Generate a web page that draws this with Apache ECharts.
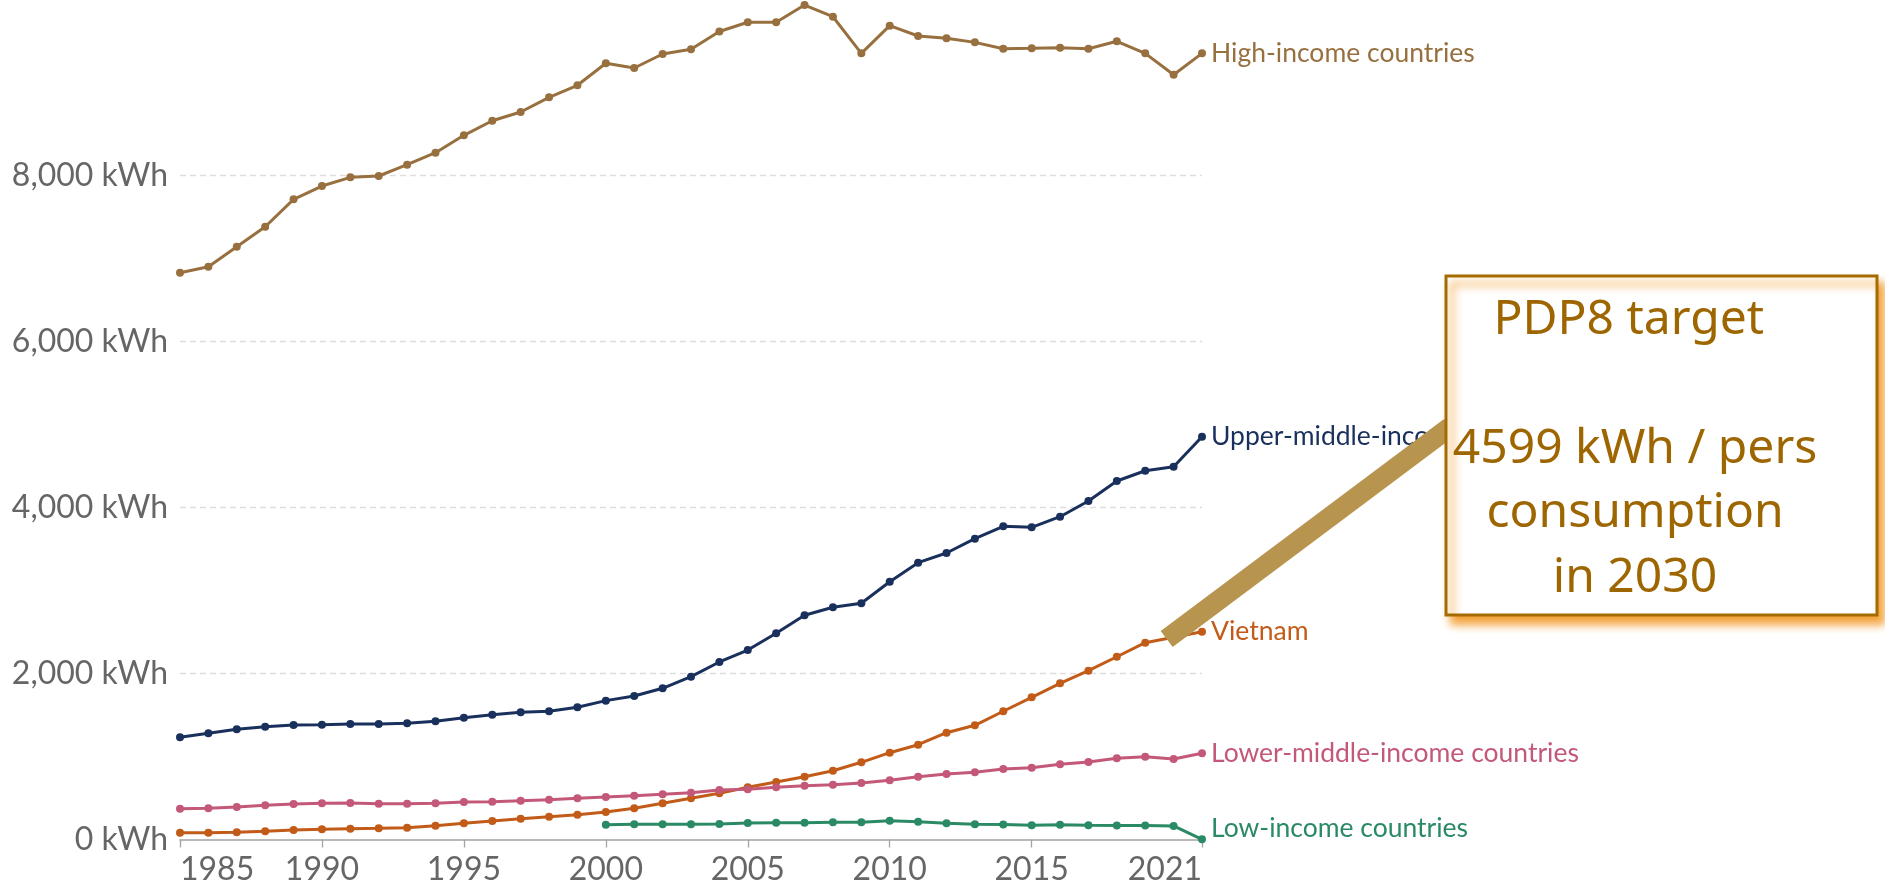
<!DOCTYPE html>
<html>
<head>
<meta charset="utf-8">
<script src="https://cdn.jsdelivr.net/npm/echarts@6/dist/echarts.min.js"></script>
<style>
html,body{margin:0;padding:0;background:#fff;}
#chart{width:1885px;height:888px;}
</style>
</head>
<body>
<div id="chart"></div>
<script>
const years = [1985,1986,1987,1988,1989,1990,1991,1992,1993,1994,1995,1996,1997,1998,1999,2000,2001,2002,2003,2004,2005,2006,2007,2008,2009,2010,2011,2012,2013,2014,2015,2016,2017,2018,2019,2020,2021];
const highIncome = [6829,6901,7142,7383,7713,7873,7978,7994,8130,8275,8484,8660,8765,8942,9087,9352,9295,9464,9520,9735,9846,9846,10054,9913,9472,9805,9681,9653,9604,9528,9532,9540,9528,9617,9472,9214,9472];
const upperMiddle = [1231,1280,1328,1359,1380,1383,1392,1392,1400,1424,1468,1504,1533,1545,1593,1673,1729,1822,1962,2139,2283,2484,2701,2798,2846,3106,3335,3452,3624,3773,3761,3889,4078,4319,4443,4492,4853];
const vietnam = [80,82,88,99,114,124,130,135,142,166,197,223,251,275,299,331,376,436,496,556,629,693,757,829,930,1046,1142,1287,1376,1545,1713,1882,2034,2202,2371,2436,2504];
const lowerMiddle = [369,376,392,412,428,438,440,432,432,436,452,456,468,480,496,512,528,544,564,596,605,629,648,660,681,713,757,789,810,849,865,906,934,978,998,970,1039];
const lowYears = [2000,2001,2002,2003,2004,2005,2006,2007,2008,2009,2010,2011,2012,2013,2014,2015,2016,2017,2018,2019,2020,2021];
const lowIncome = [178,183,183,183,187,199,203,203,207,207,227,213,195,183,181,171,178,171,170,170,163,2];
const xTickLabels = [1985,1990,1995,2000,2005,2010,2015,2021];
const yTicks = [0,2000,4000,6000,8000];
const seriesNames = ['High-income countries','Upper-middle-income countries','Vietnam','Lower-middle-income countries','Low-income countries'];
const noteLines = ['PDP8 target ','','4599 kWh / pers','consumption','in 2030'];

const colors = ['#98703f','#1a305c','#c25b18','#c45879','#2b8a66'];

function pairs(xs, ys){ return xs.map((x,i)=>[x, ys[i]]); }

const chart = echarts.init(document.getElementById('chart'), null, {renderer:'canvas'});

function mkSeries(name, data, color, labelOffset){
  return {
    name: name,
    type: 'line',
    data: data,
    clip: false,
    symbol: 'circle',
    symbolSize: 8,
    showSymbol: true,
    lineStyle: {color: color, width: 3},
    itemStyle: {color: color},
    emphasis: {disabled: true},
    animation: false,
    endLabel: {
      show: true,
      formatter: name,
      color: color,
      fontFamily: 'Lato',
      fontSize: 26.5,
      distance: 9,
      offset: labelOffset || [0,0]
    }
  };
}

const option = {
  backgroundColor: '#ffffff',
  animation: false,
  grid: {left: 180, right: 683, top: 9.5, bottom: 48.5, containLabel: false},
  xAxis: {
    type: 'value',
    min: 1985,
    max: 2021,
    axisLine: {show: true, lineStyle: {color: '#a3a3a3', width: 1.6}},
    axisTick: {show: true, length: 8, lineStyle: {color: '#a3a3a3', width: 1.3}, customValues: xTickLabels},
    axisLabel: {
      customValues: xTickLabels,
      color: '#666666',
      fontFamily: 'Lato',
      fontSize: 32,
      margin: 14,
      alignMinLabel: 'left',
      alignMaxLabel: 'right',
      formatter: v => String(v)
    },
    splitLine: {show: false}
  },
  yAxis: {
    type: 'value',
    min: 0,
    max: 10000,
    interval: 2000,
    axisLine: {show: false},
    axisTick: {show: false},
    axisLabel: {
      color: '#666666',
      fontFamily: 'Lato',
      fontSize: 32,
      margin: 12,
      showMaxLabel: false,
      formatter: v => (yTicks.indexOf(v) >= 0 ? v.toLocaleString('en-US') + ' kWh' : '')
    },
    splitLine: {show: true, showMinLine: false, showMaxLine: false, lineStyle: {color: '#dddddd', type: [6,4], width: 1.3}}
  },
  series: [
    mkSeries(seriesNames[0], pairs(years, highIncome), colors[0]),
    mkSeries(seriesNames[1], pairs(years, upperMiddle), colors[1]),
    mkSeries(seriesNames[2], pairs(years, vietnam), colors[2]),
    mkSeries(seriesNames[3], pairs(years, lowerMiddle), colors[3]),
    mkSeries(seriesNames[4], pairs(lowYears, lowIncome), colors[4], [0,-11])
  ],
  graphic: [
    {
      type: 'line',
      z: 100,
      silent: true,
      shape: {x1: 1166.7, y1: 639, x2: 1450, y2: 427},
      style: {stroke: '#b8954f', lineWidth: 20, lineCap: 'butt'}
    },
    {
      type: 'rect',
      z: 110,
      silent: true,
      shape: {x: 1446, y: 276, width: 431, height: 339},
      style: {
        fill: '#ffffff',
        stroke: '#a36b00',
        lineWidth: 3,
        shadowBlur: 8,
        shadowColor: 'rgba(242,150,30,0.9)',
        shadowOffsetX: 6,
        shadowOffsetY: 8
      }
    },
    {
      type: 'text',
      z: 120,
      silent: true,
      x: 1635,
      y: 449,
      style: {
        text: noteLines.join('\n'),
        fill: '#9e6600',
        fontFamily: 'Noto Sans',
        fontSize: 48,
        lineHeight: 64.5,
        align: 'center',
        verticalAlign: 'middle'
      }
    }
  ]
};

chart.setOption(option);
</script>
</body>
</html>
